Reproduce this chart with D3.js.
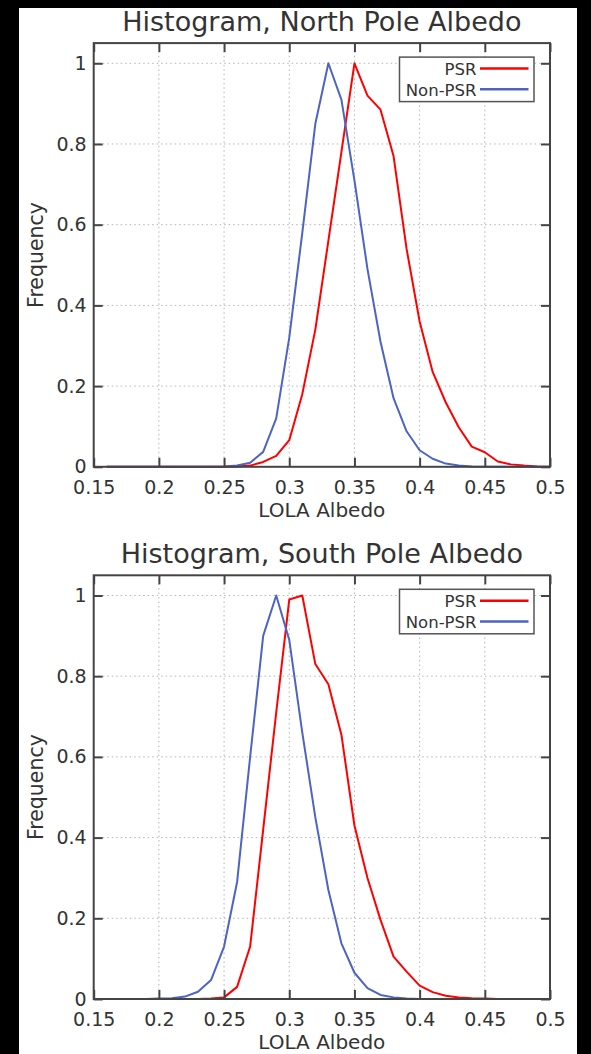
<!DOCTYPE html>
<html>
<head>
<meta charset="utf-8">
<script src="https://cdn.jsdelivr.net/npm/d3@7"></script>
<style>
  html, body { margin: 0; padding: 0; background: #000; }
  svg { display: block; }
  text { font-family: "DejaVu Sans", sans-serif; fill: #333; }
</style>
</head>
<body>
<div id="chart"></div>
<script>
// bin centres and normalised histogram counts
var northX = [0.16,0.17,0.18,0.19,0.20,0.21,0.22,0.23,0.24,0.25,0.26,0.27,0.28,0.29,0.30,0.31,0.32,0.33,0.34,0.35,
              0.36,0.37,0.38,0.39,0.40,0.41,0.42,0.43,0.44,0.45,0.46,0.47,0.48,0.49,0.50];
var northPSR = [0,0,0,0,0,0,0,0,0,0,0.001,0.003,0.012,0.027,0.066,0.18,0.34,0.56,0.78,1.0,
                0.92,0.885,0.77,0.54,0.36,0.235,0.16,0.098,0.05,0.036,0.013,0.006,0.003,0.001,0];
var northNonPSR = [0,0,0,0,0,0,0,0,0,0.001,0.003,0.01,0.037,0.12,0.32,0.58,0.85,1.0,0.91,0.71,
                   0.49,0.31,0.17,0.088,0.041,0.02,0.008,0.003,0.001,0,0,0,0,0,0];

var southX = [0.15,0.16,0.17,0.18,0.19,0.20,0.21,0.22,0.23,0.24,0.25,0.26,0.27,0.28,0.29,0.30,0.31,0.32,0.33,0.34,
              0.35,0.36,0.37,0.38,0.39,0.40,0.41,0.42,0.43,0.44,0.45,0.46,0.47,0.48,0.49];
var southPSR = [0,0,0,0,0,0,0,0,0,0.001,0.004,0.03,0.13,0.42,0.71,0.99,1.0,0.83,0.78,0.655,
                0.43,0.30,0.196,0.105,0.068,0.033,0.017,0.008,0.004,0.002,0.001,0,0,0,0];
var southNonPSR = [0,0,0,0,0,0.001,0.002,0.006,0.018,0.047,0.13,0.29,0.6,0.9,1.0,0.89,0.66,0.45,0.27,0.138,
                   0.065,0.027,0.01,0.004,0.001,0,0,0,0,0,0,0,0,0,0];

var xTicks = [0.15,0.2,0.25,0.3,0.35,0.4,0.45,0.5];
var xTickLabels = ["0.15","0.2","0.25","0.3","0.35","0.4","0.45","0.5"];
var yTicks = [0,0.2,0.4,0.6,0.8,1];
var yTickLabels = ["0","0.2","0.4","0.6","0.8","1"];
var seriesNames = ["PSR","Non-PSR"];
var seriesColors = ["#ff0000","#4d64c0"];

var W = 591, H = 1054;

var svg = d3.select("#chart").append("svg")
	.attr("width", W)
	.attr("height", H);

// white figure area inside the black border
svg.append("rect")
	.attr("x", 19).attr("y", 8)
	.attr("width", 558).attr("height", H - 8)
	.attr("fill", "#fff");

var x = d3.scaleLinear().domain([0.15, 0.5]).range([93.7, 550]);

function drawPanel(top, title, xs, psr, nonPsr) {
	var y0 = top + 423.7;
	var y = d3.scaleLinear().domain([0, 1.05]).range([y0, top]);

	var g = svg.append("g");

	// dotted grid
	g.append("g").selectAll("line")
		.data(xTicks.slice(1, -1))
		.enter().append("line")
		.attr("x1", function(d) { return x(d); })
		.attr("x2", function(d) { return x(d); })
		.attr("y1", y0).attr("y2", top)
		.attr("stroke", "#b4b4b4").attr("stroke-width", 1)
		.attr("stroke-dasharray", "1.5,3");
	g.append("g").selectAll("line")
		.data(yTicks.slice(1))
		.enter().append("line")
		.attr("x1", x.range()[0]).attr("x2", x.range()[1])
		.attr("y1", function(d) { return y(d); })
		.attr("y2", function(d) { return y(d); })
		.attr("stroke", "#b4b4b4").attr("stroke-width", 1)
		.attr("stroke-dasharray", "1.5,3");

	// series lines
	var series = [psr, nonPsr];
	var line = d3.line()
		.x(function(d, i) { return x(xs[i]); })
		.y(function(d) { return y(d); });
	for (var s = 0; s < series.length; s++) {
		g.append("path")
			.datum(series[s])
			.attr("d", line)
			.attr("fill", "none")
			.attr("stroke", seriesColors[s])
			.attr("stroke-width", 2)
			.attr("stroke-linejoin", "round");
	}

	// axes, ticks pointing inwards
	var bottom = g.append("g")
		.attr("transform", "translate(0," + y0 + ")")
		.call(d3.axisBottom(x).tickValues(xTicks)
			.tickFormat(function(d, i) { return xTickLabels[i]; })
			.tickSizeInner(-9).tickSizeOuter(0).tickPadding(0));
	bottom.selectAll("text").attr("y", 27).attr("dy", 0).style("font-size", "19px");

	g.append("g")
		.attr("transform", "translate(0," + top + ")")
		.call(d3.axisTop(x).tickValues(xTicks).tickFormat("").tickSizeInner(-9).tickSizeOuter(0));

	var left = g.append("g")
		.attr("transform", "translate(" + x.range()[0] + ",0)")
		.call(d3.axisLeft(y).tickValues(yTicks)
			.tickFormat(function(d, i) { return yTickLabels[i]; })
			.tickSizeInner(-9).tickSizeOuter(0).tickPadding(7));
	left.selectAll("text").style("font-size", "19px");

	g.append("g")
		.attr("transform", "translate(" + x.range()[1] + ",0)")
		.call(d3.axisRight(y).tickValues(yTicks).tickFormat("").tickSizeInner(-9).tickSizeOuter(0));

	g.selectAll(".domain").remove();
	g.selectAll(".tick line").attr("stroke", "#444").attr("stroke-width", 2);

	// frame
	g.append("rect")
		.attr("x", x.range()[0]).attr("y", top)
		.attr("width", x.range()[1] - x.range()[0]).attr("height", y0 - top)
		.attr("fill", "none").attr("stroke", "#444").attr("stroke-width", 2);

	// legend
	var lg = g.append("g").attr("transform", "translate(399.5," + (top + 14) + ")");
	lg.append("rect")
		.attr("width", 134.5).attr("height", 44.5)
		.attr("fill", "#fff").attr("stroke", "#555").attr("stroke-width", 1.5);
	seriesNames.forEach(function(name, i) {
		lg.append("text")
			.attr("x", 77).attr("y", 18 + i * 20.7)
			.attr("text-anchor", "end")
			.style("font-size", "16.5px")
			.text(name);
		lg.append("line")
			.attr("x1", 80.5).attr("x2", 129)
			.attr("y1", 11.5 + i * 20.7).attr("y2", 11.5 + i * 20.7)
			.attr("stroke", seriesColors[i]).attr("stroke-width", 2.5);
	});

	// labels
	g.append("text")
		.attr("x", (x.range()[0] + x.range()[1]) / 2).attr("y", top - 12.5)
		.attr("text-anchor", "middle")
		.style("font-size", "27px")
		.text(title);
	g.append("text")
		.attr("x", (x.range()[0] + x.range()[1]) / 2).attr("y", y0 + 50)
		.attr("text-anchor", "middle")
		.style("font-size", "20px")
		.text("LOLA Albedo");
	g.append("text")
		.attr("transform", "translate(43," + ((top + y0) / 2) + ") rotate(-90)")
		.attr("text-anchor", "middle")
		.style("font-size", "20.5px")
		.text("Frequency");
}

drawPanel(43.1, "Histogram, North Pole Albedo", northX, northPSR, northNonPSR);
drawPanel(575.3, "Histogram, South Pole Albedo", southX, southPSR, southNonPSR);
</script>
</body>
</html>
